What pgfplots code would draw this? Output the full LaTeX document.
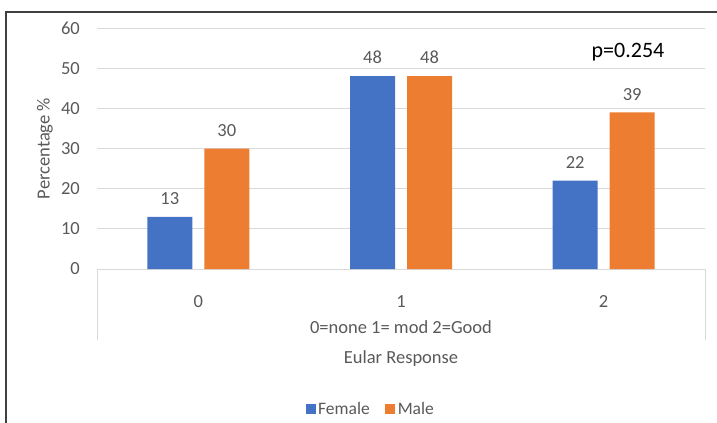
\documentclass[border=0pt]{standalone}
\usepackage{fontspec}
\setmainfont{Carlito}
\newfontfamily\calfont{Carlito}
\usepackage{pgfplots}
\pgfplotsset{compat=1.18}
\definecolor{fblue}{HTML}{4472C4}
\definecolor{morange}{HTML}{ED7D31}
\definecolor{txt}{HTML}{595959}
\definecolor{gridc}{HTML}{D9D9D9}
\definecolor{framec}{HTML}{404040}
\newcommand{\lbl}{\fontsize{18.5bp}{22bp}\selectfont}
\begin{document}
\begin{tikzpicture}
\path[use as bounding box] (0,0) rectangle (717bp,423bp);
\draw[framec, line width=1.2bp] (6bp,0) -- (6bp,411bp) -- (717bp,411bp);
\begin{axis}[
  at={(97bp,154bp)}, anchor=south west,
  width=608bp, height=241bp, scale only axis,
  xmin=-0.5, xmax=2.5, ymin=0, ymax=60,
  ytick={0,10,...,60},
  xtick={0,1,2},
  axis line style={draw=none},
  tick style={draw=none},
  ymajorgrids, grid style={gridc, line width=1bp},
  ybar=12bp, bar width=45bp,
  clip=false,
  /pgf/number format/assume math mode=true,
  tick label style={font=\lbl, text=txt, inner sep=0pt},
  yticklabel style={xshift=-17bp},
  xticklabel style={yshift=-22bp},
  nodes near coords,
  every node near coord/.append style={font=\lbl, text=txt, inner sep=0pt, anchor=south, yshift=12bp},
  xlabel={Eular Response},
  xlabel style={font=\lbl, text=txt, at={(axis description cs:0.5,-0.372)}, anchor=center},
  ylabel={Percentage \%},
  ylabel style={font=\lbl, text=txt, at={(axis description cs:-0.0855,0.5)}, anchor=center},
  legend columns=2,
  legend style={at={(axis description cs:0.4507,-0.581)}, anchor=center, draw=none, font=\fontsize{17.5bp}{21bp}\selectfont, text=txt,
    nodes={inner sep=2.5bp},
    /tikz/every even column/.append style={column sep=13bp}},
  legend image code/.code={\fill[#1] (0bp,-5bp) rectangle (10bp,5bp);},
]
\addplot[fill=fblue, draw=none] coordinates {(0,13) (1,48) (2,22)};
\addplot[fill=morange, draw=none] coordinates {(0,30) (1,48) (2,39)};
\legend{Female, Male}
\draw[gridc, line width=1bp] (axis cs:-0.5,0) -- ++(0pt,-71bp);
\draw[gridc, line width=1bp] (axis cs:2.5,0) -- ++(0pt,-71bp);
\node[font=\lbl, text=txt] at (axis description cs:0.5,-0.2407) {0=none 1= mod 2=Good};
\node[font=\calfont\fontsize{22bp}{26bp}\selectfont, text=black] at (axis cs:2.12,54.0) {p=0.254};
\end{axis}
\end{tikzpicture}
\end{document}
